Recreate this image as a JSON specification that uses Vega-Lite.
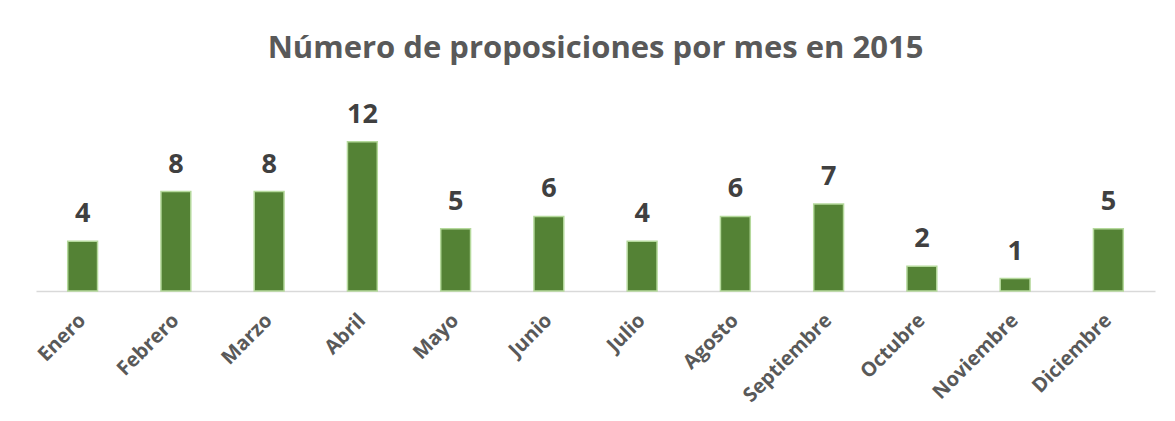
{
  "$schema": "https://vega.github.io/schema/vega-lite/v6.json",
  "width": 1119,
  "height": 174,
  "autosize": {"type": "none"},
  "padding": {"left": 36, "top": 117, "right": 20, "bottom": 130},
  "background": "white",
  "title": {
    "text": "Número de proposiciones por mes en 2015",
    "anchor": "middle",
    "frame": "group",
    "font": "Open Sans",
    "fontSize": 31,
    "fontWeight": "bold",
    "color": "#595959",
    "baseline": "alphabetic",
    "offset": 12
  },
  "data": {
    "values": [
      {"mes": "Enero", "n": 4},
      {"mes": "Febrero", "n": 8},
      {"mes": "Marzo", "n": 8},
      {"mes": "Abril", "n": 12},
      {"mes": "Mayo", "n": 5},
      {"mes": "Junio", "n": 6},
      {"mes": "Julio", "n": 4},
      {"mes": "Agosto", "n": 6},
      {"mes": "Septiembre", "n": 7},
      {"mes": "Octubre", "n": 2},
      {"mes": "Noviembre", "n": 1},
      {"mes": "Diciembre", "n": 5}
    ]
  },
  "encoding": {
    "x": {
      "field": "mes",
      "type": "nominal",
      "sort": null,
      "scale": {"paddingInner": 0.68, "paddingOuter": 0.34},
      "axis": {
        "title": null,
        "labelAngle": -45,
        "labelAlign": "right",
        "labelBaseline": "middle",
        "labelFont": "Open Sans",
        "labelFontSize": 20,
        "labelFontWeight": "bold",
        "labelColor": "#595959",
        "labelPadding": 26,
        "ticks": false,
        "domainColor": "#d9d9d9",
        "domainWidth": 1.5,
        "labelOverlap": false
      }
    },
    "y": {
      "field": "n",
      "type": "quantitative",
      "scale": {"domain": [0, 14]},
      "axis": null
    }
  },
  "layer": [
    {
      "mark": {"type": "bar", "color": "#548235", "stroke": "#b5d99c", "strokeWidth": 1.5}
    },
    {
      "mark": {
        "type": "text",
        "baseline": "alphabetic",
        "dy": -19,
        "font": "Open Sans",
        "fontSize": 27,
        "fontWeight": "bold",
        "color": "#404040"
      },
      "encoding": {"text": {"field": "n", "type": "quantitative"}}
    }
  ],
  "config": {"view": {"stroke": null}}
}
